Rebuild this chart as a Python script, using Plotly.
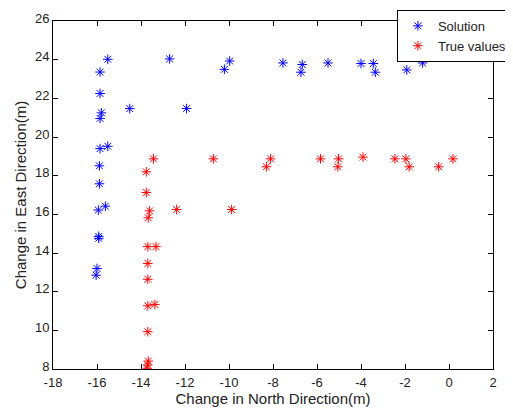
import plotly.graph_objects as go

# Solution (blue)
sol_north = [-15.51, -15.86, -15.86, -15.80, -15.86, -14.51, -11.93, -15.86, -15.51, -15.89,
             -15.89, -15.94, -15.62, -15.92, -15.92, -16.00, -16.04,
             -12.70, -9.97, -10.21, -7.55, -6.67, -6.73, -5.50, -4.00, -3.44, -3.35, -1.92, -1.20]
sol_east = [24.02, 23.36, 22.25, 21.25, 20.96, 21.47, 21.47, 19.40, 19.52, 18.51,
            17.58, 16.22, 16.42, 14.86, 14.76, 13.20, 12.85,
            24.04, 23.93, 23.50, 23.83, 23.75, 23.35, 23.83, 23.80, 23.80, 23.35, 23.47, 23.83]

# True values (red)
true_north = [-13.43, -13.76, -13.76, -13.61, -13.67, -12.38, -9.88, -13.69, -13.32, -13.69,
              -13.69, -13.69, -13.37, -13.69, -13.67, -13.70, -13.72,
              -10.71, -8.11, -8.30, -5.84, -5.02, -5.05, -3.91, -2.46, -1.96, -1.81, -0.47, 0.18]
true_east = [18.87, 18.20, 17.13, 16.18, 15.82, 16.25, 16.25, 14.33, 14.33, 13.46,
             12.64, 11.27, 11.34, 9.93, 8.41, 8.20, 8.04,
             18.87, 18.87, 18.46, 18.87, 18.87, 18.46, 18.96, 18.87, 18.87, 18.46, 18.46, 18.87]

x_ticks = list(range(-18, 3, 2))
y_ticks = list(range(8, 27, 2))

fig = go.Figure()
fig.add_trace(go.Scatter(x=sol_north, y=sol_east, mode="markers", name="Solution",
                         marker=dict(symbol="asterisk-open", size=8, color="#0000ff",
                                     line=dict(color="#0000ff", width=1))))
fig.add_trace(go.Scatter(x=true_north, y=true_east, mode="markers", name="True values",
                         marker=dict(symbol="asterisk-open", size=8, color="#ff0000",
                                     line=dict(color="#ff0000", width=1))))

axis_common = dict(showgrid=False, zeroline=False, showline=True, linecolor="black",
                   linewidth=1, mirror="ticks", ticks="inside", ticklen=5,
                   tickcolor="black", automargin=False,
                   tickfont=dict(family="Liberation Sans, Arial", size=13, color="#222"))

fig.update_layout(
    width=505, height=402,
    margin=dict(l=45, r=20, t=13, b=41, autoexpand=False),
    plot_bgcolor="white", paper_bgcolor="white",
    font=dict(family="Liberation Sans, Arial", color="#222"),
    xaxis=dict(range=[-18, 2], tickvals=x_ticks, ticktext=[str(v) for v in x_ticks],
               title=dict(text="Change in North Direction(m)", font=dict(size=15), standoff=2),
               ticklabelstandoff=1, **axis_common),
    yaxis=dict(range=[8, 26], tickvals=y_ticks, ticktext=[str(v) for v in y_ticks],
               title=dict(text="Change in East Direction(m)", font=dict(size=15), standoff=4),
               ticklabelshift=-3, **axis_common),
    legend=dict(x=1.043, y=1.032, xanchor="right", yanchor="top", bgcolor="white",
                bordercolor="black", borderwidth=1, font=dict(size=13),
                tracegroupgap=0),
    showlegend=True,
)

fig.write_html("out.html")
